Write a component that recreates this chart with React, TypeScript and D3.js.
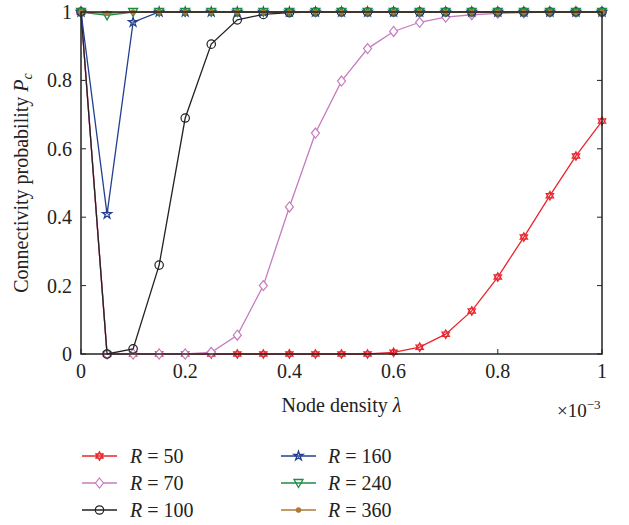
import React from "react";
import * as d3 from "d3";

const xValues = [0, 0.05, 0.1, 0.15, 0.2, 0.25, 0.3, 0.35, 0.4, 0.45, 0.5, 0.55, 0.6, 0.65, 0.7, 0.75, 0.8, 0.85, 0.9, 0.95, 1];
const r50 = [1, 0, 0, 0, 0, 0, 0, 0, 0, 0, 0, 0, 0.005, 0.02, 0.058, 0.126, 0.225, 0.342, 0.463, 0.579, 0.681];
const r70 = [1, 0, 0, 0, 0, 0.005, 0.055, 0.2, 0.43, 0.646, 0.798, 0.893, 0.943, 0.97, 0.985, 0.992, 0.996, 0.998, 1, 1, 1];
const r100 = [1, 0, 0.015, 0.26, 0.69, 0.906, 0.977, 0.993, 0.998, 1, 1, 1, 1, 1, 1, 1, 1, 1, 1, 1, 1];
const r160 = [1, 0.409, 0.97, 1, 1, 1, 1, 1, 1, 1, 1, 1, 1, 1, 1, 1, 1, 1, 1, 1, 1];
const r240 = [1, 0.99, 1, 1, 1, 1, 1, 1, 1, 1, 1, 1, 1, 1, 1, 1, 1, 1, 1, 1, 1];
const r360 = [1, 0.996, 1, 1, 1, 1, 1, 1, 1, 1, 1, 1, 1, 1, 1, 1, 1, 1, 1, 1, 1];
const xTicks = [0, 0.2, 0.4, 0.6, 0.8, 1];
const yTicks = [0, 0.2, 0.4, 0.6, 0.8, 1];
const seriesNames = ["50", "70", "100", "160", "240", "360"];
const seriesColors = ["#e8262e", "#c77bbf", "#222222", "#243f8f", "#1f8a45", "#b07a36"];
const seriesMarkers = ["hexagram", "diamond", "circle", "star", "tridown", "dot"];
const seriesData = [r50, r70, r100, r160, r240, r360];

const FONT = "'Times New Roman', Tinos, 'Liberation Serif', 'Noto Serif', 'DejaVu Serif', Times, serif";
const TS = { fontFamily: FONT };

function Marker({ type, x, y, color }: { type: string; x: number; y: number; color: string }) {
  if (type === "hexagram") {
    const r = 4.3;
    const t1 = [0, 1, 2].map((i) => {
      const a = -Math.PI / 2 + (i * 2 * Math.PI) / 3;
      return [x + r * Math.cos(a), y + r * Math.sin(a)];
    });
    const t2 = [0, 1, 2].map((i) => {
      const a = Math.PI / 2 + (i * 2 * Math.PI) / 3;
      return [x + r * Math.cos(a), y + r * Math.sin(a)];
    });
    return (
      <g fill="none" stroke={color} strokeWidth={1.2}>
        <polygon points={t1.map((p) => p.join(",")).join(" ")} />
        <polygon points={t2.map((p) => p.join(",")).join(" ")} />
      </g>
    );
  }
  if (type === "diamond") {
    const pts = [[x, y - 5], [x + 4, y], [x, y + 5], [x - 4, y]];
    return <polygon points={pts.map((p) => p.join(",")).join(" ")} fill="white" stroke={color} strokeWidth={1.2} />;
  }
  if (type === "circle") {
    return <circle cx={x} cy={y} r={4.2} fill="none" stroke={color} strokeWidth={1.2} />;
  }
  if (type === "star") {
    const sym = d3.symbol().type(d3.symbolStar).size(26)();
    return <path d={sym || ""} transform={`translate(${x},${y})`} fill="none" stroke={color} strokeWidth={1.3} />;
  }
  if (type === "tridown") {
    const pts = [[x - 4.5, y - 3.5], [x + 4.5, y - 3.5], [x, y + 4.5]];
    return <polygon points={pts.map((p) => p.join(",")).join(" ")} fill="none" stroke={color} strokeWidth={1.3} />;
  }
  return <circle cx={x} cy={y} r={2.6} fill={color} stroke={color} strokeWidth={0.5} />;
}

export default function App() {
  const W = 629, H = 525;
  const left = 81, right = 602, top = 12, bottom = 354;
  const x = d3.scaleLinear().domain([0, 1]).range([left, right]);
  const y = d3.scaleLinear().domain([0, 1]).range([bottom, top]);
  const line = d3.line<number>().x((_, i) => x(xValues[i])).y((d) => y(d));

  const legendRows = [456, 483, 510];
  const legendCols = [{ l0: 82, l1: 117, t: 130 }, { l0: 281, l1: 316, t: 328 }];
  const fmt = (t: number) => (t === 0 || t === 1 ? String(t) : t.toFixed(1));

  return (
    <svg width={W} height={H} style={{ position: "absolute", left: 0, top: 0, background: "white", fontFamily: FONT }}>
      <rect x={0} y={0} width={W} height={H} fill="white" />
      {xTicks.map((t) => (
        <g key={"xt" + t}>
          <line x1={x(t)} x2={x(t)} y1={bottom} y2={bottom - 5} stroke="#222" strokeWidth={1} />
          <line x1={x(t)} x2={x(t)} y1={top} y2={top + 5} stroke="#222" strokeWidth={1} />
          <text style={TS} x={x(t)} y={bottom + 24} textAnchor="middle" fontSize={20} fill="#222">{fmt(t)}</text>
        </g>
      ))}
      {yTicks.map((t) => (
        <g key={"yt" + t}>
          <line x1={left} x2={left + 5} y1={y(t)} y2={y(t)} stroke="#222" strokeWidth={1} />
          <line x1={right} x2={right - 5} y1={y(t)} y2={y(t)} stroke="#222" strokeWidth={1} />
          <text style={TS} x={left - 9} y={y(t) + 7} textAnchor="end" fontSize={20} fill="#222">{fmt(t)}</text>
        </g>
      ))}
      {seriesData.map((data, si) => (
        <g key={"s" + si}>
          <path d={line(data) || ""} fill="none" stroke={seriesColors[si]} strokeWidth={1.3} />
          {data.map((v, i) => (
            <Marker key={i} type={seriesMarkers[si]} x={x(xValues[i])} y={y(v)} color={seriesColors[si]} />
          ))}
        </g>
      ))}
      <rect x={left} y={top} width={right - left} height={bottom - top} fill="none" stroke="#222" strokeWidth={1.5} />
      <text style={TS} x={(left + right) / 2} y={412} textAnchor="middle" fontSize={20} fill="#222">
        Node density <tspan fontStyle="italic">λ</tspan>
      </text>
      <text style={TS} x={557} y={417} fontSize={19} fill="#222">
        ×10<tspan fontSize={13} dy={-8}>−3</tspan>
      </text>
      <text style={TS} transform={`translate(28,${(top + bottom) / 2}) rotate(-90)`} textAnchor="middle" fontSize={20} fill="#222">
        Connectivity probability <tspan fontStyle="italic">P</tspan><tspan fontStyle="italic" fontSize={14} dy={4}>c</tspan>
      </text>
      {seriesNames.map((name, si) => {
        const col = legendCols[Math.floor(si / 3)];
        const ry = legendRows[si % 3];
        return (
          <g key={"lg" + si}>
            <line x1={col.l0} x2={col.l1} y1={ry} y2={ry} stroke={seriesColors[si]} strokeWidth={1.3} />
            <Marker type={seriesMarkers[si]} x={(col.l0 + col.l1) / 2} y={ry} color={seriesColors[si]} />
            <text style={TS} x={col.t} y={ry + 7} fontSize={20} fill="#222">
              <tspan fontStyle="italic">R</tspan> = {name}
            </text>
          </g>
        );
      })}
    </svg>
  );
}
